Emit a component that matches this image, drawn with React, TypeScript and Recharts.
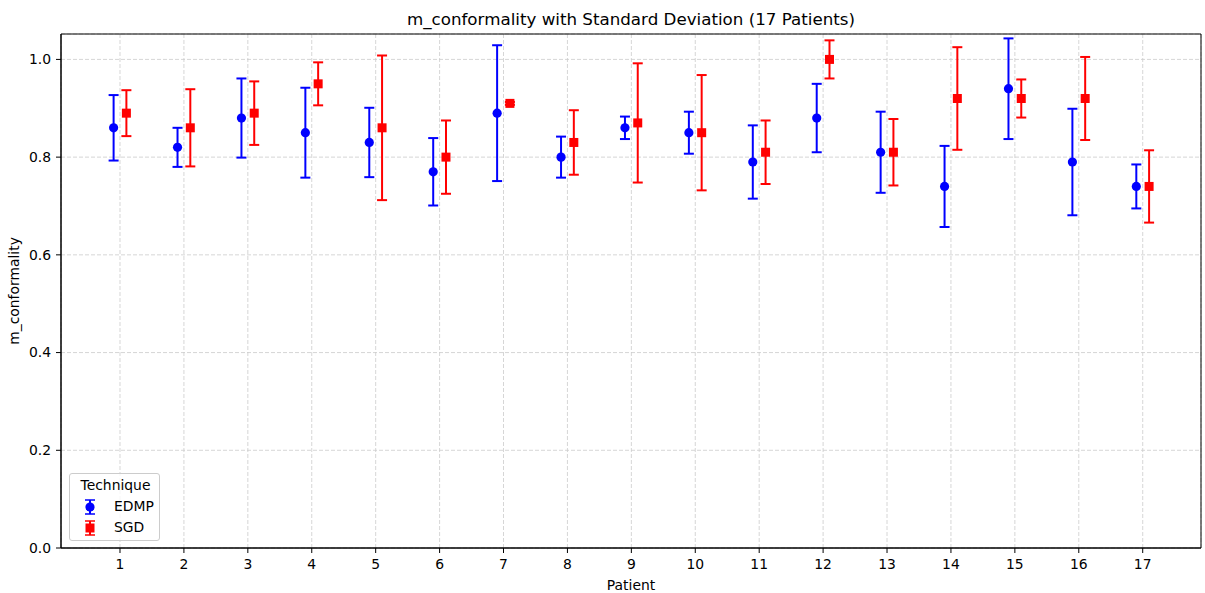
import React from "react";
import {
  ScatterChart,
  Scatter,
  XAxis,
  YAxis,
  CartesianGrid,
  ErrorBar,
  ReferenceArea,
} from "recharts";

const patients = [1, 2, 3, 4, 5, 6, 7, 8, 9, 10, 11, 12, 13, 14, 15, 16, 17];
const edmpMean = [0.86, 0.82, 0.88, 0.85, 0.83, 0.77, 0.89, 0.8, 0.86, 0.85, 0.79, 0.88, 0.81, 0.74, 0.94, 0.79, 0.74];
const edmpStd = [0.067, 0.04, 0.081, 0.092, 0.071, 0.069, 0.139, 0.042, 0.023, 0.043, 0.075, 0.07, 0.083, 0.083, 0.103, 0.109, 0.045];
const sgdMean = [0.89, 0.86, 0.89, 0.95, 0.86, 0.8, 0.91, 0.83, 0.87, 0.85, 0.81, 1.0, 0.81, 0.92, 0.92, 0.92, 0.74];
const sgdStd = [0.047, 0.079, 0.065, 0.044, 0.148, 0.075, 0.003, 0.066, 0.122, 0.118, 0.065, 0.039, 0.068, 0.105, 0.039, 0.085, 0.074];
const yTicks = [0, 0.2, 0.4, 0.6, 0.8, 1.0];

const OFFSET = 0.1;
const X_DOMAIN: [number, number] = [0.077, 17.912];
const Y_DOMAIN: [number, number] = [0, 1.052];

const FONT = "'DejaVu Sans', sans-serif";
const BLUE = "#0000ff";
const RED = "#ff0000";

const edmpData = patients.map((p, i) => ({ x: p - OFFSET, y: edmpMean[i], sd: edmpStd[i] }));
const sgdData = patients.map((p, i) => ({ x: p + OFFSET, y: sgdMean[i], sd: sgdStd[i] }));

const Dot = (props: any) => <circle cx={props.cx} cy={props.cy} r={4.6} fill={BLUE} />;
const Square = (props: any) => (
  <rect x={props.cx - 4.5} y={props.cy - 4.5} width={9} height={9} fill={RED} />
);

const tickStyle = { fill: "#000", fontSize: 13.9, fontFamily: FONT };

const LegendIcon = ({ color, square }: { color: string; square?: boolean }) => (
  <svg width={20} height={18} style={{ position: "absolute", left: 10, top: -9 }}>
    <line x1={10} y1={2} x2={10} y2={16} stroke={color} strokeWidth={2} />
    <line x1={5} y1={2} x2={15} y2={2} stroke={color} strokeWidth={1.5} />
    <line x1={5} y1={16} x2={15} y2={16} stroke={color} strokeWidth={1.5} />
    {square ? (
      <rect x={5.5} y={4.5} width={9} height={9} fill={color} />
    ) : (
      <circle cx={10} cy={9} r={4.6} fill={color} />
    )}
  </svg>
);

export default function App() {
  return (
    <div
      style={{
        position: "absolute",
        left: 0,
        top: 0,
        width: 1205,
        height: 593,
        background: "#fff",
        fontFamily: FONT,
      }}
    >
      <div
        style={{
          position: "absolute",
          left: 61,
          width: 1140,
          top: 9,
          textAlign: "center",
          fontSize: 16.7,
          color: "#000",
        }}
      >
        m_conformality with Standard Deviation (17 Patients)
      </div>

      <ScatterChart width={1205} height={593} margin={{ top: 34, right: 4, left: 0, bottom: 0 }}>
        <CartesianGrid stroke="#cbcbcb" strokeDasharray="4 2" strokeWidth={0.8} />
        <XAxis
          type="number"
          dataKey="x"
          domain={X_DOMAIN}
          ticks={patients}
          allowDataOverflow
          height={45}
          tick={tickStyle}
          tickSize={5}
          tickMargin={6}
          tickLine={{ stroke: "#000" }}
          axisLine={{ stroke: "#000" }}
          label={{
            value: "Patient",
            position: "insideBottom",
            offset: 3,
            style: { fill: "#000", fontSize: 13.9, fontFamily: FONT },
          }}
        />
        <YAxis
          type="number"
          dataKey="y"
          domain={Y_DOMAIN}
          ticks={yTicks}
          allowDataOverflow
          width={61}
          tick={tickStyle}
          tickFormatter={(v: number) => v.toFixed(1)}
          tickSize={5}
          tickMargin={5}
          tickLine={{ stroke: "#000" }}
          axisLine={{ stroke: "#000" }}
          label={{
            value: "m_conformality",
            angle: -90,
            position: "insideLeft",
            offset: 14,
            style: { fill: "#000", fontSize: 13.9, fontFamily: FONT, textAnchor: "middle" },
          }}
        />
        <ReferenceArea
          x1={X_DOMAIN[0]}
          x2={X_DOMAIN[1]}
          y1={Y_DOMAIN[0]}
          y2={Y_DOMAIN[1]}
          fill="none"
          stroke="#000"
          strokeWidth={1}
        />
        <Scatter data={edmpData} shape={Dot} isAnimationActive={false}>
          <ErrorBar dataKey="sd" direction="y" width={5} stroke={BLUE} strokeWidth={2} />
        </Scatter>
        <Scatter data={sgdData} shape={Square} isAnimationActive={false}>
          <ErrorBar dataKey="sd" direction="y" width={5} stroke={RED} strokeWidth={2} />
        </Scatter>
      </ScatterChart>

      {/* legend, lower left inside the plot */}
      <div
        style={{
          position: "absolute",
          left: 69,
          top: 473,
          width: 91,
          height: 68,
          border: "1px solid #cccccc",
          borderRadius: 3,
          background: "rgba(255,255,255,0.8)",
          fontSize: 13.9,
          color: "#000",
          boxSizing: "border-box",
        }}
      >
        <div style={{ position: "absolute", left: 0, width: 91, top: 3, textAlign: "center" }}>
          Technique
        </div>
        <div style={{ position: "absolute", left: 0, top: 33 }}>
          <LegendIcon color={BLUE} />
          <span style={{ position: "absolute", left: 44, top: -9, lineHeight: "17px" }}>EDMP</span>
        </div>
        <div style={{ position: "absolute", left: 0, top: 54 }}>
          <LegendIcon color={RED} square />
          <span style={{ position: "absolute", left: 44, top: -9, lineHeight: "17px" }}>SGD</span>
        </div>
      </div>
    </div>
  );
}
